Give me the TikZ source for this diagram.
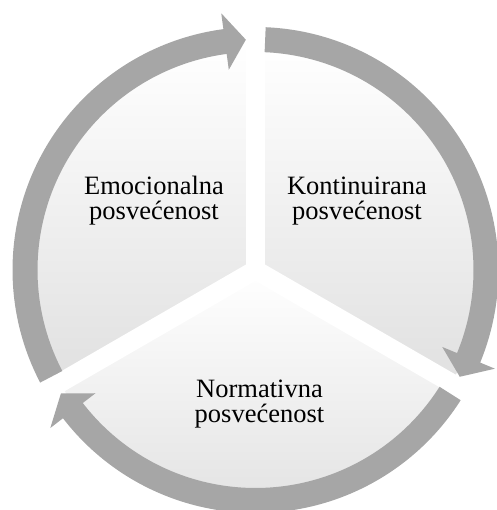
\documentclass[tikz,border=0pt]{standalone}
\usepackage{fontspec}
\setmainfont{Liberation Serif}
\definecolor{ringgray}{HTML}{A6A6A6}
\newcommand\ringarr[1]{%
  \pgfmathsetmacro\arrtip{#1-115.2}%
  \pgfmathsetmacro\arrbase{#1-110}%
  \fill[ringgray] (#1:243pt) arc[start angle=#1, end angle=\arrbase, radius=243pt]
    -- (\arrbase:259pt) -- (\arrtip:230.5pt) -- (\arrbase:202pt) -- (\arrbase:218pt)
    arc[start angle=\arrbase, end angle=#1, radius=218pt] -- cycle;}
\tikzset{
  sector/.style={top color=white, bottom color=black!12},
  gap/.style={draw=white, line width=19pt},
  lbl/.style={align=center, inner sep=0pt, font=\fontsize{26.5pt}{24.5pt}\selectfont}
}
\begin{document}
\begin{tikzpicture}
\useasboundingbox (-255.5pt,-240pt) rectangle (240.5pt,270pt);
% sectors
\shade[sector] (0,0) -- (90:226pt) arc[start angle=90, end angle=210, radius=226pt] -- cycle;
\shade[sector] (0,0) -- (-30:226pt) arc[start angle=-30, end angle=90, radius=226pt] -- cycle;
\shade[sector] (0,0) -- (210:226pt) arc[start angle=210, end angle=330, radius=226pt] -- cycle;
% white gaps
\path[gap] (0,0) -- (90:240pt);
\path[gap] (0,0) -- (210:240pt);
\path[gap] (0,0) -- (330:240pt);
\fill[white] (0,0) circle (11pt);
% ring arrows
\ringarr{207.6}
\ringarr{87.6}
\ringarr{-32.4}
% labels
\node[lbl, anchor=base] (emo) at (-101.5pt,50.7pt) {Emocionalna\\posvećenost};
\node[lbl, anchor=base] (kon) at (101.5pt,50.7pt) {Kontinuirana\\posvećenost};
\node[lbl, anchor=base] (nor) at (4pt,-152.3pt) {Normativna\\posvećenost};
\end{tikzpicture}
\end{document}
